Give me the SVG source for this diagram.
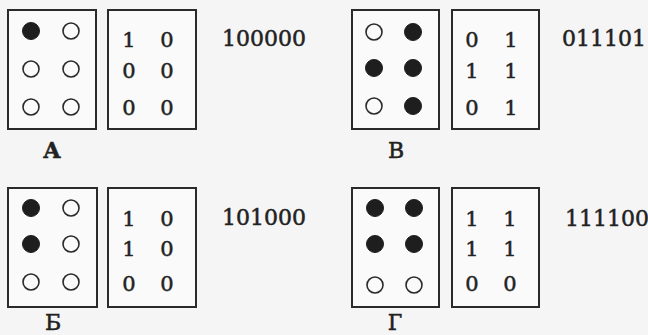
<svg xmlns="http://www.w3.org/2000/svg" width="648" height="335" viewBox="0 0 648 335">
<style>
.bg{fill:#f5f5f5}
.box{fill:#fafafa;stroke:#2a2a2a;stroke-width:2}
.on{fill:#1e1e1e;stroke:#1e1e1e;stroke-width:1}
.off{fill:#fafafa;stroke:#2a2a2a;stroke-width:1.6}
.t{font-family:"DejaVu Serif","Liberation Serif",serif;fill:#222;stroke:#222;stroke-width:0.5}
.d{font-size:21px;text-anchor:middle}
.code{font-size:22px}
.lbl{font-size:22px;text-anchor:middle}
</style>
<rect class="bg" x="0" y="0" width="648" height="335"/>
<g id="nodeA">
<rect class="box" x="8" y="10" width="88" height="119"/>
<circle class="on" cx="31" cy="31" r="8.5"/>
<circle class="off" cx="71" cy="31" r="8"/>
<circle class="off" cx="31" cy="69" r="8"/>
<circle class="off" cx="71" cy="69" r="8"/>
<circle class="off" cx="31" cy="107" r="8"/>
<circle class="off" cx="71" cy="107" r="8"/>
<rect class="box" x="108" y="10" width="88" height="119"/>
<text class="t d" x="129" y="47">1</text><text class="t d" x="167" y="47">0</text>
<text class="t d" x="129" y="78">0</text><text class="t d" x="167" y="78">0</text>
<text class="t d" x="129" y="115">0</text><text class="t d" x="167" y="115">0</text>
<text class="t code" x="222" y="46">100000</text>
<text class="t lbl" x="52" y="158" font-weight="bold">А</text>
</g>
<g id="nodeV">
<rect class="box" x="352" y="10" width="87" height="119"/>
<circle class="off" cx="374" cy="32" r="8"/>
<circle class="on" cx="413" cy="32" r="8.5"/>
<circle class="on" cx="374" cy="68" r="8.5"/>
<circle class="on" cx="413" cy="68" r="8.5"/>
<circle class="off" cx="374" cy="106" r="8"/>
<circle class="on" cx="413" cy="106" r="8.5"/>
<rect class="box" x="452" y="10" width="87" height="119"/>
<text class="t d" x="472" y="47">0</text><text class="t d" x="511" y="47">1</text>
<text class="t d" x="472" y="78">1</text><text class="t d" x="511" y="78">1</text>
<text class="t d" x="472" y="115">0</text><text class="t d" x="511" y="115">1</text>
<text class="t code" x="562" y="46">011101</text>
<text class="t lbl" x="396" y="158">В</text>
</g>
<g id="nodeB">
<rect class="box" x="8" y="188" width="89" height="119"/>
<circle class="on" cx="31" cy="208" r="8.5"/>
<circle class="off" cx="71" cy="208" r="8"/>
<circle class="on" cx="31" cy="244" r="8.5"/>
<circle class="off" cx="71" cy="244" r="8"/>
<circle class="off" cx="31" cy="282" r="8"/>
<circle class="off" cx="71" cy="282" r="8"/>
<rect class="box" x="108" y="188" width="88" height="119"/>
<text class="t d" x="129" y="226">1</text><text class="t d" x="167" y="226">0</text>
<text class="t d" x="129" y="256">1</text><text class="t d" x="167" y="256">0</text>
<text class="t d" x="129" y="291">0</text><text class="t d" x="167" y="291">0</text>
<text class="t code" x="222" y="225">101000</text>
<text class="t lbl" x="53" y="330">Б</text>
</g>
<g id="nodeG">
<rect class="box" x="352" y="188" width="87" height="119"/>
<circle class="on" cx="375" cy="208" r="8.5"/>
<circle class="on" cx="414" cy="208" r="8.5"/>
<circle class="on" cx="375" cy="244" r="8.5"/>
<circle class="on" cx="414" cy="244" r="8.5"/>
<circle class="off" cx="375" cy="285" r="8"/>
<circle class="off" cx="414" cy="285" r="8"/>
<rect class="box" x="452" y="188" width="87" height="119"/>
<text class="t d" x="472" y="226">1</text><text class="t d" x="510" y="226">1</text>
<text class="t d" x="472" y="256">1</text><text class="t d" x="510" y="256">1</text>
<text class="t d" x="472" y="291">0</text><text class="t d" x="510" y="291">0</text>
<text class="t code" x="565" y="226">111100</text>
<text class="t lbl" x="395" y="330">Г</text>
</g>
<g id="connectors"/>
</svg>
